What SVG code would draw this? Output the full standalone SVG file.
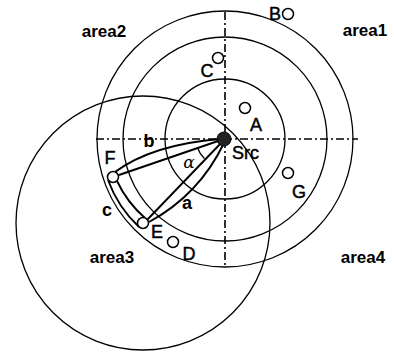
<svg xmlns="http://www.w3.org/2000/svg" width="394" height="352" viewBox="0 0 394 352">
<style>
.ring{fill:none;stroke:#000;stroke-width:1.3}
.axis{fill:none;stroke:#000;stroke-width:1.6;stroke-dasharray:8 3 2 3}
.node{fill:#fff;stroke:#000;stroke-width:1.5}
.edge{fill:none;stroke:#000;stroke-width:1.9}
.lbl{font-family:"Liberation Sans",Arial,sans-serif;font-size:18px;fill:#000;stroke:#000;stroke-width:0.45;text-anchor:middle}
.area{font-family:"Liberation Sans",Arial,sans-serif;font-size:17px;font-weight:bold;fill:#000;text-anchor:middle}
.el{font-family:"Liberation Sans",Arial,sans-serif;font-size:18px;font-weight:bold;fill:#000;text-anchor:middle}
</style>
<rect width="394" height="352" fill="#fff"/>
<g id="rings">
<circle class="ring" cx="225" cy="139" r="128"/>
<circle class="ring" cx="225" cy="139" r="102"/>
<circle class="ring" cx="225" cy="139" r="60"/>
<circle class="ring" cx="143" cy="223" r="127"/>
<line class="axis" x1="96" y1="139" x2="358" y2="139"/>
<line class="axis" x1="225" y1="12" x2="225" y2="267"/>
</g>
<g id="areas">
<text class="area" x="104" y="37">area2</text>
<text class="area" x="365" y="36">area1</text>
<text class="area" x="112" y="263">area3</text>
<text class="area" x="363" y="263">area4</text>
</g>
<g id="connectors">
<line class="edge" x1="119" y1="175" x2="221" y2="140"/>
<path class="edge" d="M115 172 Q152.5 144.5 220 139"/>
<line class="edge" x1="147" y1="220" x2="222" y2="142"/>
<path class="edge" d="M149 222 Q199 195 224 143"/>
<path class="edge" d="M108 180 A122 122 0 0 0 139 227"/>
<path class="edge" d="M117 181 A113 113 0 0 0 145 218"/>
<path class="ring" d="M197.5 147.8 A27 27 0 0 0 204.4 158.5"/>
<text class="el" x="149" y="147">b</text>
<text class="el" x="187" y="209">a</text>
<text class="el" x="107" y="216">c</text>
<text x="189" y="168" style="font-family:'DejaVu Serif',serif;font-style:italic;font-size:17px;text-anchor:middle">α</text>
</g>
<g id="Src">
<circle cx="224" cy="139" r="7" fill="#222" stroke="#000" stroke-width="1"/>
<text class="lbl" x="232" y="159" style="text-anchor:start">Src</text>
</g>
<g id="A"><circle class="node" cx="245" cy="108" r="5.5"/><text class="lbl" x="256" y="131">A</text></g>
<g id="B"><circle class="node" cx="288" cy="14" r="5.5"/><text class="lbl" x="275" y="20">B</text></g>
<g id="C"><circle class="node" cx="218" cy="58" r="5.5"/><text class="lbl" x="207" y="77">C</text></g>
<g id="D"><circle class="node" cx="173" cy="242" r="5.5"/><text class="lbl" x="189" y="260">D</text></g>
<g id="E"><circle class="node" cx="143" cy="223" r="5.5"/><text class="lbl" x="157" y="238">E</text></g>
<g id="F"><circle class="node" cx="113" cy="177" r="5.5"/><text class="lbl" x="110" y="164">F</text></g>
<g id="G"><circle class="node" cx="288" cy="173" r="5.5"/><text class="lbl" x="299" y="198">G</text></g>
</svg>
